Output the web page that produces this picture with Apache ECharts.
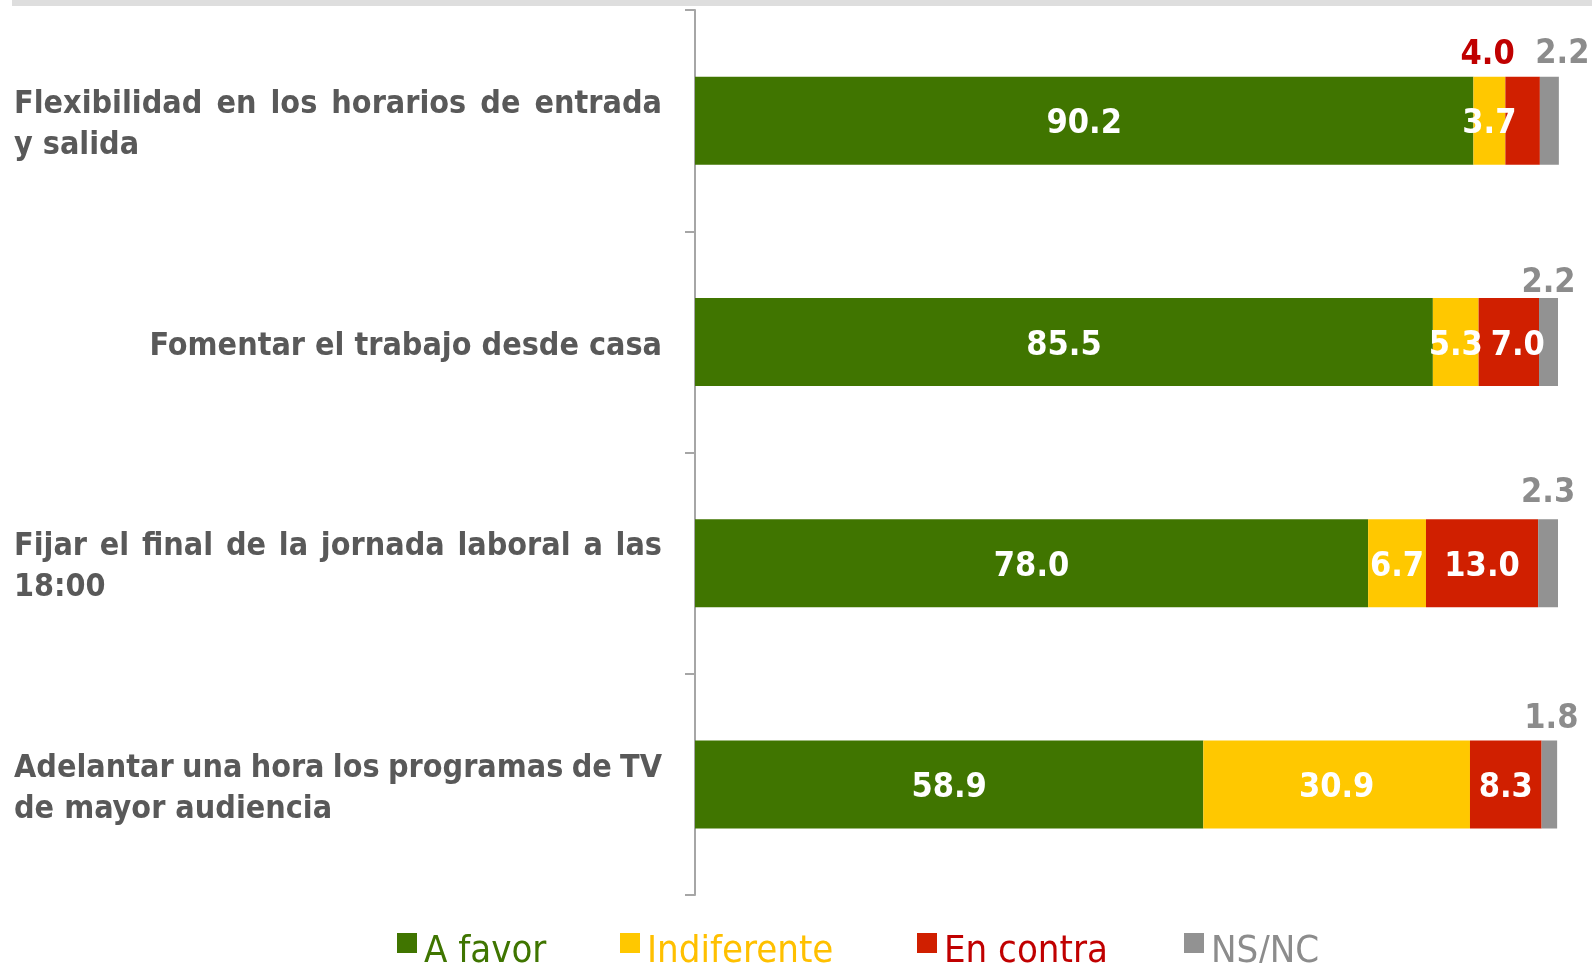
<!DOCTYPE html>
<html>
<head>
<meta charset="utf-8">
<script src="https://cdn.jsdelivr.net/npm/echarts@6/dist/echarts.min.js"></script>
<style>
html,body{margin:0;padding:0;background:#fff;}
#chart{width:1592px;height:963px;}
</style>
</head>
<body>
<div id="chart"></div>
<script>
// ---- Data ----
const categories = [
  'Flexibilidad en los horarios de entrada\ny salida',
  'Fomentar el trabajo desde casa',
  'Fijar el final de la jornada laboral a las\n18:00',
  'Adelantar una hora los programas de TV\nde mayor audiencia'
];
const seriesNames = ['A favor', 'Indiferente', 'En contra', 'NS/NC'];
const aFavor      = [90.2, 85.5, 78.0, 58.9];
const indiferente = [3.7, 5.3, 6.7, 30.9];
const enContra    = [4.0, 7.0, 13.0, 8.3];
const nsnc        = [2.2, 2.2, 2.3, 1.8];

// ---- Styles ----
const FONT = '"DejaVu Sans Condensed", "DejaVu Sans", sans-serif';
const barColors = ['#407500', '#FFC800', '#D01F00', '#929292'];
const legendColors = ['#3F7500', '#FFC000', '#C00000', '#8C8C8C'];
const LABEL_W = 648, LABEL_SIZE = 32, LH = 41;

// measure text for justified category labels
const ctx = document.createElement('canvas').getContext('2d');
ctx.font = 'bold ' + LABEL_SIZE + 'px ' + FONT;
const rich = {
  w: { fontFamily: FONT, fontWeight: 'bold', fontSize: LABEL_SIZE, color: '#595959', lineHeight: LH },
  r: { fontFamily: FONT, fontWeight: 'bold', fontSize: LABEL_SIZE, color: '#595959', lineHeight: LH, width: LABEL_W, align: 'right' }
};
const labelText = categories.map((txt, i) => {
  const lines = txt.split('\n');
  if (lines.length === 1) return '{r|' + lines[0] + '}';
  return lines.map((ln, li) => {
    if (li === lines.length - 1) return '{w|' + ln + '}';
    const words = ln.split(' ');
    const sum = words.reduce((s, w) => s + ctx.measureText(w).width, 0);
    const gap = Math.max(4, (LABEL_W - sum) / (words.length - 1));
    const gname = 'g' + i + '_' + li;
    rich[gname] = { fontFamily: FONT, fontWeight: 'bold', fontSize: LABEL_SIZE, lineHeight: LH, width: gap };
    return words.map(w => '{w|' + w + '}').join('{' + gname + '| }');
  }).join('\n');
});

const valueLabel = { show: true, position: 'inside', color: '#fff', fontFamily: FONT, fontWeight: 'bold', fontSize: 34,
  offset: [0, 4], formatter: p => p.value.toFixed(1) };

// per-point label tweaks (style only)
const labelTweaks = {
  'En contra': { 0: { position: 'top', distance: 3, color: '#C00000', offset: [-35, -1] }, 1: { offset: [9, 4] } },
  'NS/NC': { 0: { offset: [13, -2] }, 1: { offset: [0, 5] }, 2: { offset: [0, -6] }, 3: { offset: [2, -1] } }
};

const allValues = [aFavor, indiferente, enContra, nsnc];
const series = seriesNames.map((name, si) => ({
  name,
  type: 'bar',
  stack: 'total',
  barWidth: 88,
  clip: false,
  itemStyle: { color: barColors[si] },
  label: si === 3
    ? Object.assign({}, valueLabel, { position: 'top', distance: 3, color: '#8C8C8C', offset: [0, 0] })
    : valueLabel,
  data: allValues[si].map((v, di) => {
    const t = labelTweaks[name] && labelTweaks[name][di];
    return t ? { value: v, label: t } : v;
  })
}));

const legendLefts = [397, 620, 917, 1184];
const legends = seriesNames.map((name, i) => ({
  data: [name],
  left: legendLefts[i],
  top: 933,
  padding: 0,
  icon: 'rect',
  itemWidth: 20,
  itemHeight: 20,
  itemGap: 0,
  selectedMode: false,
  formatter: n => '{a|' + n + '}',
  textStyle: {
    color: legendColors[i], fontFamily: FONT, fontSize: 38,
    rich: { a: { color: legendColors[i], fontFamily: FONT, fontSize: 38, lineHeight: 56, verticalAlign: 'bottom', padding: [0, 0, 0, 2] } }
  }
}));

const chart = echarts.init(document.getElementById('chart'));
chart.setOption({
  animation: false,
  backgroundColor: '#fff',
  graphic: [{ type: 'rect', shape: { x: 12, y: 0, width: 1580, height: 6 }, style: { fill: '#DEDEDE' }, silent: true }],
  legend: legends,
  grid: { left: 695, right: 34, top: 10, bottom: 68, containLabel: false, outerBoundsMode: 'none' },
  xAxis: { type: 'value', min: 0, max: 100, show: false },
  yAxis: {
    type: 'category',
    data: categories,
    inverse: true,
    axisLine: { show: true, lineStyle: { color: '#A6A6A6', width: 2 } },
    axisTick: { show: true, length: 10, lineStyle: { color: '#A6A6A6', width: 2 } },
    axisLabel: {
      interval: 0,
      align: 'left',
      margin: 681,
      padding: [9, 0, 0, 0],
      formatter: (val, idx) => labelText[idx],
      rich
    },
    splitLine: { show: false }
  },
  series
});
</script>
</body>
</html>
